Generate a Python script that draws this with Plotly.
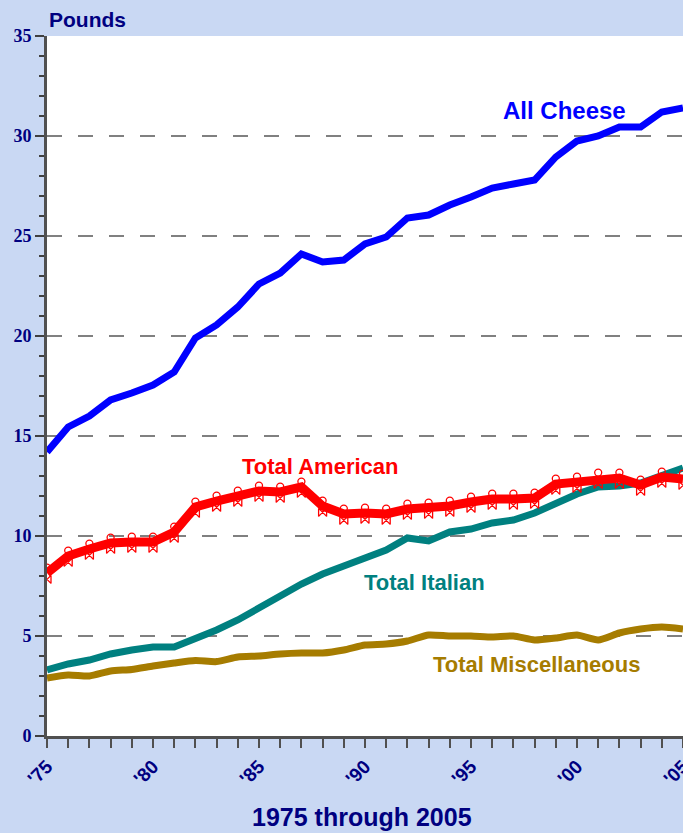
import plotly.graph_objects as go

years = list(range(1975, 2006))
all_cheese = [14.2, 15.45, 16.0, 16.8, 17.15, 17.55, 18.2, 19.9, 20.55, 21.45, 22.6,
              23.15, 24.1, 23.7, 23.8, 24.6, 24.95, 25.9, 26.05, 26.55, 26.95,
              27.4, 27.6, 27.8, 28.95, 29.75, 30.0, 30.45, 30.45, 31.2, 31.4]
total_american = [8.15, 9.0, 9.35, 9.65, 9.7, 9.7, 10.2, 11.45, 11.75, 12.0, 12.25,
                  12.2, 12.45, 11.5, 11.1, 11.15, 11.1, 11.35, 11.4, 11.5, 11.7,
                  11.85, 11.85, 11.9, 12.6, 12.7, 12.9, 12.9, 12.55, 12.95, 12.85]
total_italian = [3.3, 3.6, 3.8, 4.1, 4.3, 4.45, 4.45, 4.85, 5.3, 5.8, 6.45,
                 7.0, 7.6, 8.1, 8.5, 8.9, 9.3, 9.9, 9.75, 10.2, 10.35,
                 10.65, 10.8, 11.15, 11.6, 12.1, 12.45, 12.5, 12.65, 13.05, 13.4]
total_misc = [2.9, 3.05, 3.0, 3.25, 3.33, 3.5, 3.65, 3.77, 3.72, 3.95, 4.0,
              4.1, 4.15, 4.15, 4.3, 4.55, 4.6, 4.75, 5.05, 5.0, 5.0,
              4.95, 5.0, 4.8, 4.9, 5.05, 4.8, 5.15, 5.35, 5.45, 5.35]

x_tickvals = [1975, 1980, 1985, 1990, 1995, 2000, 2005]
x_ticktext = ["'75", "'80", "'85", "'90", "'95", "'00", "'05"]
y_tickvals = [0, 5, 10, 15, 20, 25, 30, 35]

NAVY = "#000080"
BLUE = "#0000ff"
RED = "#ff0000"
TEAL = "#008080"
GOLD = "#a67c00"

fig = go.Figure()
fig.add_trace(go.Scatter(x=years, y=total_misc, mode="lines",
                         line=dict(color=GOLD, width=7, shape="spline", smoothing=0.6)))
fig.add_trace(go.Scatter(x=years, y=total_italian, mode="lines",
                         line=dict(color=TEAL, width=7)))
fig.add_trace(go.Scatter(x=years, y=total_american, mode="lines",
                         line=dict(color=RED, width=9)))
# decorative point markers of the American series: a small ring just above the
# line and a small loop just below it (drawn on slightly shifted overlay axes)
fig.add_trace(go.Scatter(x=years, y=total_american, mode="markers", yaxis="y3",
                         marker=dict(symbol="circle-open", size=7, color=RED,
                                     line=dict(color=RED, width=1.3))))
fig.add_trace(go.Scatter(x=years, y=total_american, mode="markers", yaxis="y2",
                         marker=dict(symbol="bowtie-open", size=8, color=RED,
                                     line=dict(color=RED, width=1.3))))
fig.add_trace(go.Scatter(x=years, y=all_cheese, mode="lines",
                         line=dict(color=BLUE, width=7)))

label_font = dict(family="Liberation Sans, Arial", weight="bold")
fig.add_annotation(x=1999.4, y=31.3, text="All Cheese", showarrow=False,
                   font=dict(size=24, color=BLUE, **label_font))
fig.add_annotation(x=1987.9, y=13.5, text="Total American", showarrow=False,
                   font=dict(size=22, color=RED, **label_font))
fig.add_annotation(x=1992.8, y=7.7, text="Total Italian", showarrow=False,
                   font=dict(size=22, color=TEAL, **label_font))
fig.add_annotation(x=1998.1, y=3.6, text="Total Miscellaneous", showarrow=False,
                   font=dict(size=22, color=GOLD, **label_font))
fig.add_annotation(x=0, xref="paper", y=1, yref="paper", xanchor="left",
                   yanchor="bottom", yshift=3, xshift=0, text="Pounds", showarrow=False,
                   font=dict(size=21, color=NAVY, **label_font))
fig.add_annotation(x=0.495, xref="paper", y=0, yref="paper", yshift=-81,
                   yanchor="middle", text="1975 through 2005", showarrow=False,
                   font=dict(size=25, color=NAVY, **label_font))

fig.update_layout(
    width=683, height=833,
    margin=dict(l=47, r=0, t=36, b=97, autoexpand=False),
    paper_bgcolor="#c9d8f3",
    plot_bgcolor="white",
    showlegend=False,
    xaxis=dict(range=[1975, 2005], tickvals=x_tickvals, ticktext=x_ticktext,
               tickangle=-45, ticks="outside", ticklen=9, tickcolor="#505050",
               tickwidth=1.5, ticklabeloverflow="allow", automargin=False,
               minor=dict(dtick=1, ticks="outside", ticklen=9, tickcolor="#505050",
                          tickwidth=1.5, showgrid=False),
               showgrid=False, zeroline=False, showline=True, linecolor="#505050",
               linewidth=3,
               tickfont=dict(family="Liberation Sans, Arial", size=19, color=NAVY,
                             weight="bold")),
    yaxis=dict(range=[0, 35], tickvals=y_tickvals, ticks="outside", ticklen=9,
               tickcolor="#404040", tickwidth=1.5, automargin=False,
               minor=dict(dtick=1, ticks="outside", ticklen=5, tickcolor="#404040",
                          tickwidth=1.5, showgrid=False),
               showgrid=True, gridcolor="#808080", gridwidth=1.5, griddash="15px,16px",
               zeroline=False, showline=True, linecolor="#505050", linewidth=3,
               tickfont=dict(family="Liberation Serif, Times New Roman", size=18,
                             color=NAVY, weight="bold")),
    yaxis2=dict(overlaying="y", range=[0.32, 35.32], visible=False),
    yaxis3=dict(overlaying="y", range=[-0.27, 34.73], visible=False),
)

fig.write_html("out.html", config={"displayModeBar": False},
               post_script="document.body.style.margin='0';document.body.style.overflow='hidden';")
